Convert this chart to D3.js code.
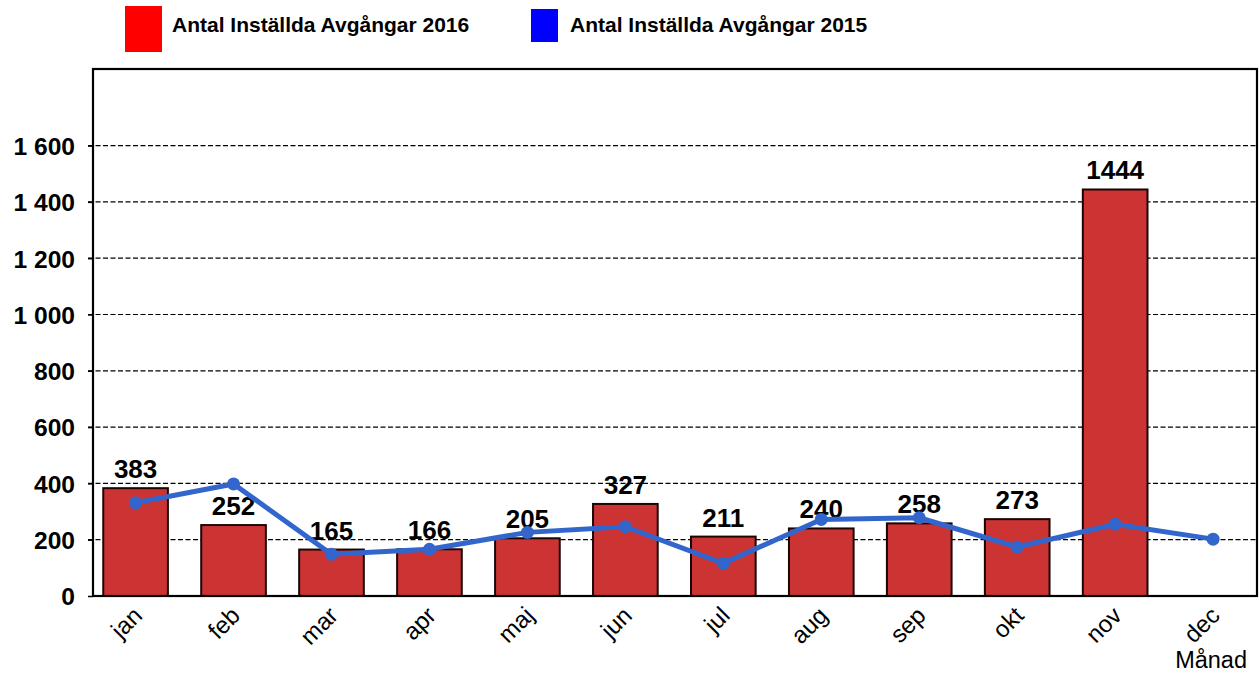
<!DOCTYPE html>
<html>
<head>
<meta charset="utf-8">
<script src="https://cdn.jsdelivr.net/npm/d3@7"></script>
<style>
  html, body { margin: 0; padding: 0; background: #fff; }
  svg { display: block; font-family: "Liberation Sans", Arial, sans-serif; }
  .grid line { stroke: #000; stroke-width: 1.2; stroke-dasharray: 5 2.5; }
</style>
</head>
<body>
<svg id="chart" width="1259" height="673"></svg>
<script>
// Inställda avgångar per månad
const months = ["jan","feb","mar","apr","maj","jun","jul","aug","sep","okt","nov","dec"];
const values2016 = [383, 252, 165, 166, 205, 327, 211, 240, 258, 273, 1444, null];
const values2015 = [331, 398, 148, 166, 226, 246, 116, 272, 278, 174, 255, 202];
const yTicks = [0, 200, 400, 600, 800, 1000, 1200, 1400, 1600];
const legendLabels = ["Antal Inställda Avgångar 2016", "Antal Inställda Avgångar 2015"];

const svg = d3.select("#chart");
const plot = { left: 93, right: 1257, top: 69, bottom: 596 };

/* ---------- scales ---------- */
const x = d3.scaleBand()
  .domain(months)
  .range([86.6, 1262.1])
  .paddingInner(0.34)
  .paddingOuter(0.17);
const cx = m => x(m) + x.bandwidth() / 2;

const y = d3.scaleLinear().domain([0, 1872]).range([plot.bottom, plot.top]);
const fmtTick = d3.formatLocale({ decimal: ",", thousands: " ", grouping: [3], currency: ["", " kr"] }).format(",d");

/* ---------- grid + y axis ---------- */
svg.append("g").attr("class", "grid")
  .selectAll("line").data(yTicks.filter(d => d > 0)).join("line")
  .attr("x1", plot.left - 5).attr("x2", plot.right)
  .attr("y1", d => y(d)).attr("y2", d => y(d));

const yAxis = svg.append("g")
  .attr("transform", `translate(${plot.left},0)`)
  .call(d3.axisLeft(y).tickValues(yTicks).tickFormat(fmtTick).tickSize(5).tickPadding(13));
yAxis.select(".domain").remove();
yAxis.selectAll(".tick line").attr("stroke", "#000").attr("stroke-width", 1.5);
yAxis.selectAll(".tick text")
  .attr("fill", "#000")
  .style("font-size", "24.6px")
  .style("font-weight", "bold")
  .attr("dy", "0.36em");

/* ---------- bars ---------- */
const bars = months.map((m, i) => ({ m, v: values2016[i] })).filter(d => d.v != null);

svg.append("g").selectAll("rect").data(bars).join("rect")
  .attr("x", d => x(d.m))
  .attr("y", d => y(d.v))
  .attr("width", x.bandwidth())
  .attr("height", d => y(0) - y(d.v))
  .attr("fill", "#cc3333")
  .attr("stroke", "#1a0505")
  .attr("stroke-width", 2);

svg.append("g").selectAll("text").data(bars).join("text")
  .attr("x", d => cx(d.m))
  .attr("y", d => y(d.v) - 10)
  .attr("text-anchor", "middle")
  .style("font-size", "26px")
  .style("font-weight", "bold")
  .text(d => d.v);

/* ---------- line 2015 ---------- */
const pts = months.map((m, i) => ({ m, v: values2015[i] }));
svg.append("path")
  .datum(pts)
  .attr("fill", "none")
  .attr("stroke", "#3366cc")
  .attr("stroke-width", 5)
  .attr("stroke-linejoin", "round")
  .attr("d", d3.line().x(d => cx(d.m)).y(d => y(d.v)));

svg.append("g").selectAll("circle").data(pts).join("circle")
  .attr("cx", d => cx(d.m))
  .attr("cy", d => y(d.v))
  .attr("r", 6.5)
  .attr("fill", "#3366cc");

/* ---------- plot frame ---------- */
svg.append("rect")
  .attr("x", plot.left).attr("y", plot.top)
  .attr("width", plot.right - plot.left).attr("height", plot.bottom - plot.top)
  .attr("fill", "none").attr("stroke", "#000").attr("stroke-width", 2.2);

/* ---------- x labels ---------- */
svg.append("g").selectAll("text").data(months).join("text")
  .attr("transform", d => `translate(${cx(d) + 8},${plot.bottom + 21}) rotate(-45)`)
  .attr("text-anchor", "end")
  .style("font-size", "24px")
  .text(d => d);

svg.append("text")
  .attr("x", 1247).attr("y", 668)
  .attr("text-anchor", "end")
  .style("font-size", "23.5px")
  .text("Månad");

/* ---------- legend ---------- */
const legend = [
  { label: legendLabels[0], color: "#ff0000", box: [125, 6, 37, 46], tx: 172 },
  { label: legendLabels[1], color: "#0000ff", box: [531, 9, 27, 33], tx: 570 }
];
const lg = svg.append("g").selectAll("g").data(legend).join("g");
lg.append("rect")
  .attr("x", d => d.box[0]).attr("y", d => d.box[1])
  .attr("width", d => d.box[2]).attr("height", d => d.box[3])
  .attr("fill", d => d.color);
lg.append("text")
  .attr("x", d => d.tx).attr("y", 32)
  .style("font-size", "21px")
  .style("font-weight", "bold")
  .text(d => d.label);
</script>
</body>
</html>
